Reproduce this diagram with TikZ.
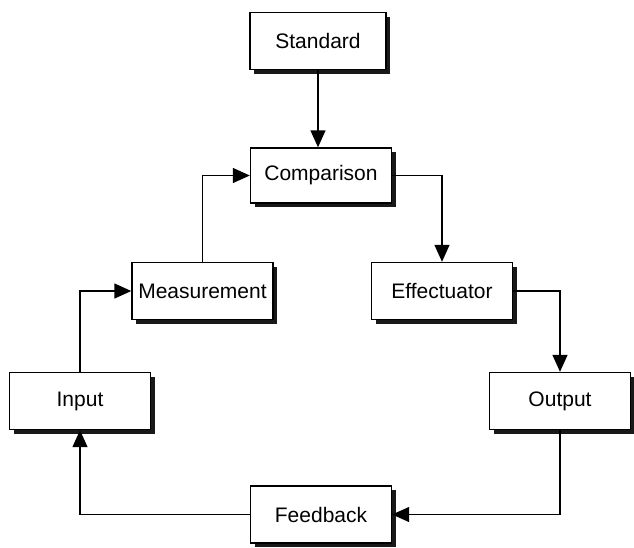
\documentclass[tikz,border=0pt]{standalone}
\usepackage{fontspec}
\setmainfont{Liberation Sans}
\usetikzlibrary{arrows.meta,shadows}
\begin{document}
\begin{tikzpicture}[x=1pt,y=-1pt,
  box/.style={draw, line width=1.4pt, fill=white, inner sep=0pt,
    minimum width=141pt, minimum height=57pt, font=\fontsize{21}{25}\selectfont,
    drop shadow={shadow xshift=4pt, shadow yshift=-4pt, fill=black, opacity=0.9}},
  conn/.style={line width=1.4pt, -{Triangle[length=17pt,width=15pt]}}]
\useasboundingbox (0,0) rectangle (634,547);
\node[box, minimum width=136pt] (std) at (318,41) {Standard};
\node[box, minimum height=55pt] (cmp) at (321,175.5) {Comparison};
\node[box] (mea) at (202.5,291) {Measurement};
\node[box] (eff) at (442,291) {Effectuator};
\node[box] (inp) at (80,401) {Input};
\node[box] (out) at (560,401) {Output};
\node[box] (fb) at (321,514.5) {Feedback};
\draw[conn] (std.south) -- (std.south |- cmp.north);
\draw[conn] (cmp.east) -| (eff.north);
\draw[conn] (eff.east) -| (out.north);
\draw[conn] (out.south) |- (fb.east);
\draw[conn] (fb.west) -| (inp.south);
\draw[conn] (inp.north) |- (mea.west);
\draw[conn] (mea.north) |- (cmp.west);
\end{tikzpicture}
\end{document}
